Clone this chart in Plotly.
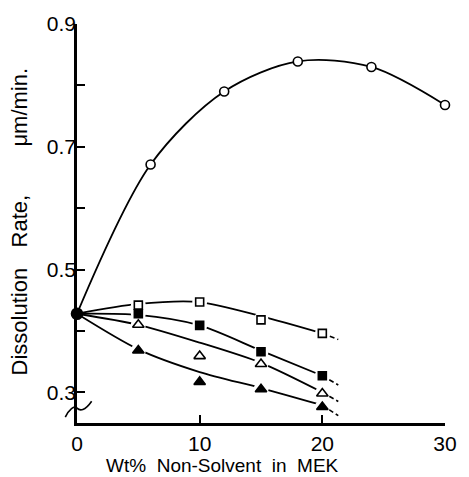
import plotly.graph_objects as go

# ---- measured data -------------------------------------------------------
# common starting point (pure MEK)
x_origin = [0]
y_origin = [0.428]

# open circles
x_circ = [6, 12, 18, 24, 30]
y_circ = [0.671, 0.790, 0.839, 0.830, 0.768]

# lower four series share the same compositions
x_wt = [5, 10, 15, 20]
y_open_sq = [0.442, 0.447, 0.418, 0.396]
y_fill_sq = [0.428, 0.409, 0.366, 0.327]
y_open_tri = [0.410, 0.359, 0.346, 0.298]
y_fill_tri = [0.368, 0.317, 0.305, 0.276]

# hand-drawn trend curves (solid part) and their dashed continuation
x_fit = [0, 5, 10, 15, 20]
fit_open_sq = [0.428, 0.444, 0.447, 0.424, 0.396]
fit_fill_sq = [0.428, 0.426, 0.409, 0.368, 0.327]
fit_open_tri = [0.428, 0.410, 0.381, 0.348, 0.300]
fit_fill_tri = [0.428, 0.370, 0.333, 0.307, 0.279]

x_tail = [20, 21.3]
tail_open_sq = [0.396, 0.386]
tail_fill_sq = [0.327, 0.312]
tail_open_tri = [0.300, 0.285]
tail_fill_tri = [0.279, 0.262]

y_ticks = [0.3, 0.4, 0.5, 0.6, 0.7, 0.8, 0.9]
y_ticktext = ["0.3", "", "0.5", "", "0.7", "", "0.9"]
x_ticks = [0, 10, 20, 30]
x_ticktext = ["0", "10", "20", "30"]

FONT = "Liberation Sans, Arial, sans-serif"
INK = "black"

fig = go.Figure()

# ---- trend curves ---------------------------------------------------------
fig.add_trace(go.Scatter(
    x=x_origin + x_circ, y=y_origin + y_circ, mode="lines",
    line=dict(color=INK, width=1.8, shape="spline", smoothing=0.9),
    hoverinfo="skip"))

for fy in (fit_open_sq, fit_fill_sq, fit_open_tri, fit_fill_tri):
    fig.add_trace(go.Scatter(
        x=x_fit, y=fy, mode="lines",
        line=dict(color=INK, width=1.8, shape="spline", smoothing=0.8),
        hoverinfo="skip"))

for ty in (tail_open_sq, tail_fill_sq, tail_open_tri, tail_fill_tri):
    fig.add_trace(go.Scatter(
        x=x_tail, y=ty, mode="lines",
        line=dict(color=INK, width=1.6, dash="5px,3px"),
        hoverinfo="skip"))

# white halos so the curves break around the lower-series markers
for yy in (y_open_sq, y_fill_sq, y_open_tri, y_fill_tri):
    fig.add_trace(go.Scatter(
        x=x_wt, y=yy, mode="markers",
        marker=dict(symbol="circle", size=15, color="white", line=dict(width=0)),
        hoverinfo="skip"))

# ---- markers --------------------------------------------------------------
def add_markers(xs, ys, symbol, size, fill):
    fig.add_trace(go.Scatter(
        x=xs, y=ys, mode="markers", cliponaxis=False,
        marker=dict(symbol=symbol, size=size, color=fill,
                    line=dict(color=INK, width=1.6))))

add_markers(x_circ, y_circ, "circle", 9, "white")
add_markers(x_wt, y_open_sq, "square", 8, "white")
add_markers(x_wt, y_fill_sq, "square", 8, INK)
add_markers(x_wt, y_open_tri, "triangle-up", 10, "white")
add_markers(x_wt, y_fill_tri, "triangle-up", 10, INK)
add_markers(x_origin, y_origin, "circle", 11, INK)

# ---- axis break mark on the y axis (paper coordinates) ----------------------
W, H = 469, 477
L, R, T, B = 77, 15, 20, 54
pw, ph = W - L - R, H - T - B


def px(xp, yp):
    return f"{(xp - L) / pw:.4f},{(H - B - yp) / ph:.4f}"


squiggle = (f"M {px(65, 417)} C {px(69, 409)} {px(74, 405)} {px(77, 408)} "
            f"S {px(85, 411)} {px(92, 401)}")
fig.add_shape(type="path", path=squiggle, xref="paper", yref="paper",
              line=dict(color=INK, width=1.6))

# ---- axis titles -------------------------------------------------------------
fig.add_annotation(text="Wt%  Non-Solvent  in  MEK", xref="paper", yref="paper",
                   x=(226 - L) / pw, y=(H - B - 466) / ph, showarrow=False,
                   font=dict(family=FONT, size=19, color=INK),
                   xanchor="center", yanchor="middle")

for word, ycen in (("Dissolution", 320), ("Rate,", 219), ("\u03bcm/min.", 104)):
    fig.add_annotation(text=word, xref="paper", yref="paper",
                       x=(18 - L) / pw, y=(H - B - ycen) / ph, showarrow=False,
                       textangle=-90, font=dict(family=FONT, size=22, color=INK),
                       xanchor="center", yanchor="middle")

fig.update_layout(
    width=W, height=H,
    margin=dict(l=L, r=R, t=T, b=B, pad=0),
    paper_bgcolor="white", plot_bgcolor="white",
    showlegend=False,
    xaxis=dict(range=[0, 30], tickvals=x_ticks, ticktext=x_ticktext,
               showgrid=False, zeroline=False, showline=True,
               linecolor=INK, linewidth=2.5, ticks="inside", ticklen=8,
               tickwidth=2, tickcolor=INK,
               tickfont=dict(family=FONT, size=21, color=INK)),
    yaxis=dict(range=[0.25, 0.9], tickvals=y_ticks, ticktext=y_ticktext,
               showgrid=False, zeroline=False, showline=True,
               linecolor=INK, linewidth=2.5, ticks="inside", ticklen=8,
               tickwidth=2, tickcolor=INK, ticklabelstandoff=-6,
               tickfont=dict(family=FONT, size=21, color=INK)),
)

fig.write_html("out.html")
